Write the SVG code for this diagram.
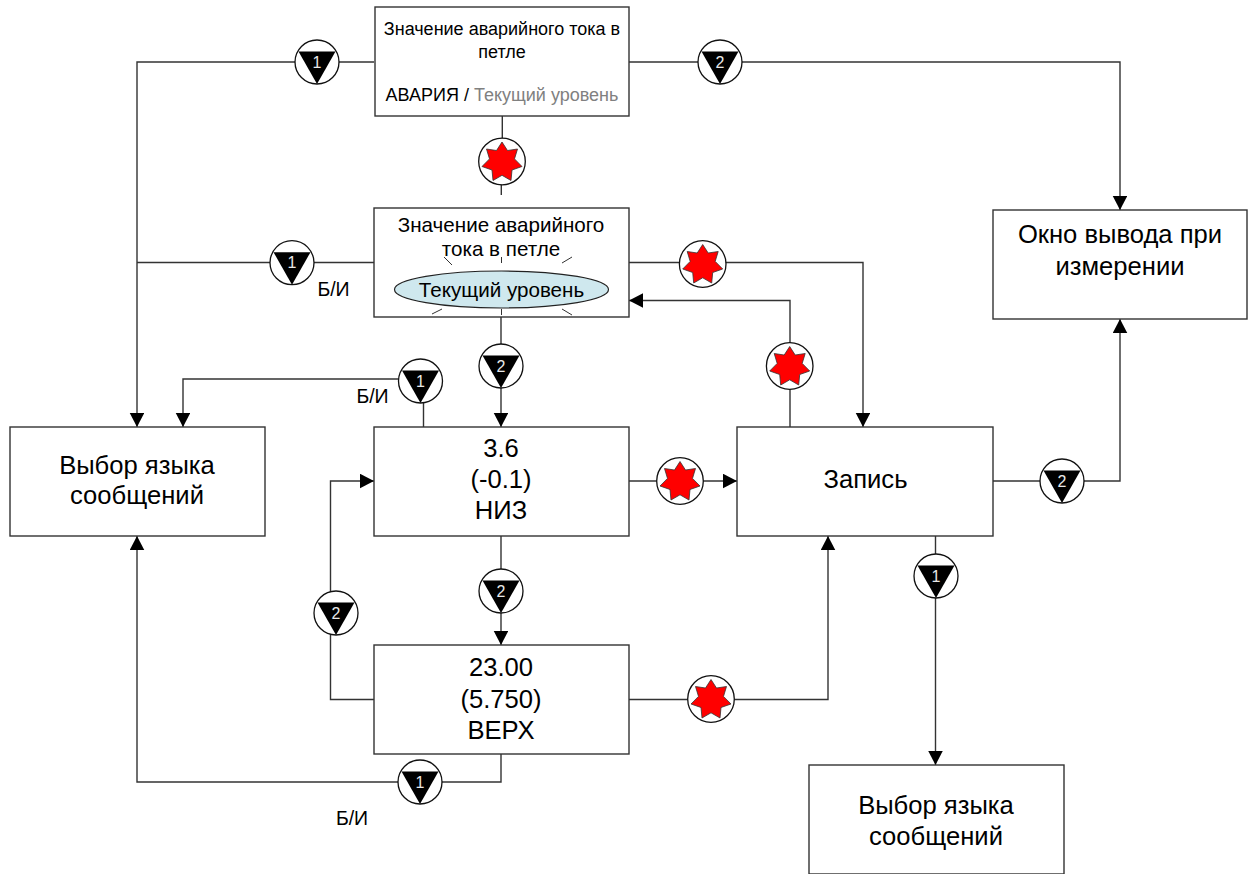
<svg xmlns="http://www.w3.org/2000/svg" width="1249" height="874" viewBox="0 0 1249 874">
<style>
text{font-family:"Liberation Sans",Arial,sans-serif;fill:#000;text-anchor:middle}
.box{fill:#fff;stroke:#333;stroke-width:1.4}
.ln{fill:none;stroke:#333;stroke-width:1.4}
.ray{fill:none;stroke:#333;stroke-width:1}
.circ{fill:#fff;stroke:#111;stroke-width:1.3}
.s{font-size:18px}
.m{font-size:20.600px}
.l{font-size:25.600px}
.n{font-size:16px;fill:#e8e8e8}
.bi{font-size:19.500px}
</style>
<defs>
<marker id="a" markerUnits="userSpaceOnUse" markerWidth="15" markerHeight="15" refX="14" refY="7.25" orient="auto"><path d="M0 0L14 7.25L0 14.500Z" fill="#000"/></marker>
<g id="tri"><circle class="circ" r="22"/><path d="M-18.500-10.500H18.500L0 22Z" fill="#000"/></g>
<g id="star"><circle class="circ" r="23.300"/><path d="M0-19.500L5.500-11L15.500-12.500L12.500-2.600L20 5L10 8.500L9 19L0 13.800L-9 19L-10 8.500L-20 5L-12.500-2.600L-15.500-12.500L-5.500-11Z" fill="#f00" stroke="#333" stroke-width="0.800"/></g>
</defs>
<g id="connectors">
<path class="ln" d="M374 62H137V427" marker-end="url(#a)"/>
<path class="ln" d="M629 62H1120V210" marker-end="url(#a)"/>
<path class="ln" d="M502.300 116V139M501.300 184V195"/>
<path class="ln" d="M374 262.500H137"/>
<path class="ln" d="M629 262.500H863V427" marker-end="url(#a)"/>
<path class="ln" d="M790 427V300.500H629" marker-end="url(#a)"/>
<path class="ln" d="M501 317V427" marker-end="url(#a)"/>
<path class="ln" d="M423.500 427V379H183V427" marker-end="url(#a)"/>
<path class="ln" d="M629 481H737" marker-end="url(#a)"/>
<path class="ln" d="M993 481H1120V319" marker-end="url(#a)"/>
<path class="ln" d="M935.500 536V765" marker-end="url(#a)"/>
<path class="ln" d="M501 536V645" marker-end="url(#a)"/>
<path class="ln" d="M374 699.500H330.500V481H374" marker-end="url(#a)"/>
<path class="ln" d="M629 699.500H828V536" marker-end="url(#a)"/>
<path class="ln" d="M501 754V782H137V536" marker-end="url(#a)"/>
</g>
<g id="node-alarm-top"><rect class="box" x="375" y="7" width="254" height="109"/>
<text class="s" x="502" y="35">Значение аварийного тока в</text><text class="s" x="502" y="58">петле</text>
<text class="s" x="502" y="101">АВАРИЯ / <tspan fill="#808080">Текущий уровень</tspan></text></g>
<g id="node-alarm-flash"><rect class="box" x="374" y="208" width="255" height="109"/>
<text class="m" x="501" y="232">Значение аварийного</text><text class="m" x="501" y="256">тока в петле</text>
<path class="ray" d="M444 257L452 265M501.500 257V263M562 263L572 257M432 314L442 309M501.500 309V315M562 309L572 315"/>
<ellipse cx="501.500" cy="289.500" rx="107" ry="18.500" fill="#cfe8ee" stroke="#222" stroke-width="1.200"/>
<text class="m" x="501.500" y="297">Текущий уровень</text></g>
<g id="node-lang-left"><rect class="box" x="10" y="427" width="255" height="109"/><text class="l" x="137" y="474">Выбор языка</text><text class="l" x="137" y="504">сообщений</text></g>
<g id="node-low"><rect class="box" x="374" y="427" width="255" height="109"/><text class="l" x="501" y="456.500">3.6</text><text class="l" x="501" y="487.500">(-0.1)</text><text class="l" x="501" y="518.500">НИЗ</text></g>
<g id="node-write"><rect class="box" x="737" y="427" width="256" height="109"/><text class="l" x="865.500" y="488">Запись</text></g>
<g id="node-high"><rect class="box" x="374" y="645" width="255" height="109"/><text class="l" x="501" y="676">23.00</text><text class="l" x="501" y="707.500">(5.750)</text><text class="l" x="501" y="739">ВЕРХ</text></g>
<g id="node-output"><rect class="box" x="993" y="210" width="254" height="109"/><text class="l" x="1120" y="243">Окно вывода при</text><text class="l" x="1120" y="274.500">измерении</text></g>
<g id="node-lang-bottom"><rect class="box" x="809" y="765" width="255" height="109"/><text class="l" x="936" y="814">Выбор языка</text><text class="l" x="936" y="845">сообщений</text></g>
<g id="badge-1"><use href="#tri" x="317" y="62"/><text class="n" x="317" y="68">1</text></g>
<g id="badge-2"><use href="#tri" x="720" y="62"/><text class="n" x="720" y="68">2</text></g>
<g id="badge-3"><use href="#star" x="502" y="161.500"/></g>
<g id="badge-4"><use href="#tri" x="292" y="262.700"/><text class="n" x="292" y="268">1</text></g>
<g id="badge-5"><use href="#star" x="702.700" y="264"/></g>
<g id="badge-6"><use href="#star" x="789.700" y="366"/></g>
<g id="badge-7"><use href="#tri" x="501" y="366"/><text class="n" x="501" y="372">2</text></g>
<g id="badge-8"><use href="#tri" x="420.500" y="381"/><text class="n" x="420.500" y="387">1</text></g>
<g id="badge-9"><use href="#star" x="680" y="481"/></g>
<g id="badge-10"><use href="#tri" x="1062" y="481"/><text class="n" x="1062" y="487">2</text></g>
<g id="badge-11"><use href="#tri" x="936" y="576"/><text class="n" x="936" y="582">1</text></g>
<g id="badge-12"><use href="#tri" x="501" y="591"/><text class="n" x="501" y="597">2</text></g>
<g id="badge-13"><use href="#tri" x="336" y="613"/><text class="n" x="336" y="619">2</text></g>
<g id="badge-14"><use href="#star" x="711" y="699"/></g>
<g id="badge-15"><use href="#tri" x="420" y="782"/><text class="n" x="420" y="788">1</text></g>
<text class="bi" x="333.500" y="296">Б/И</text>
<text class="bi" x="372.500" y="403">Б/И</text>
<text class="bi" x="352" y="825">Б/И</text>
</svg>
